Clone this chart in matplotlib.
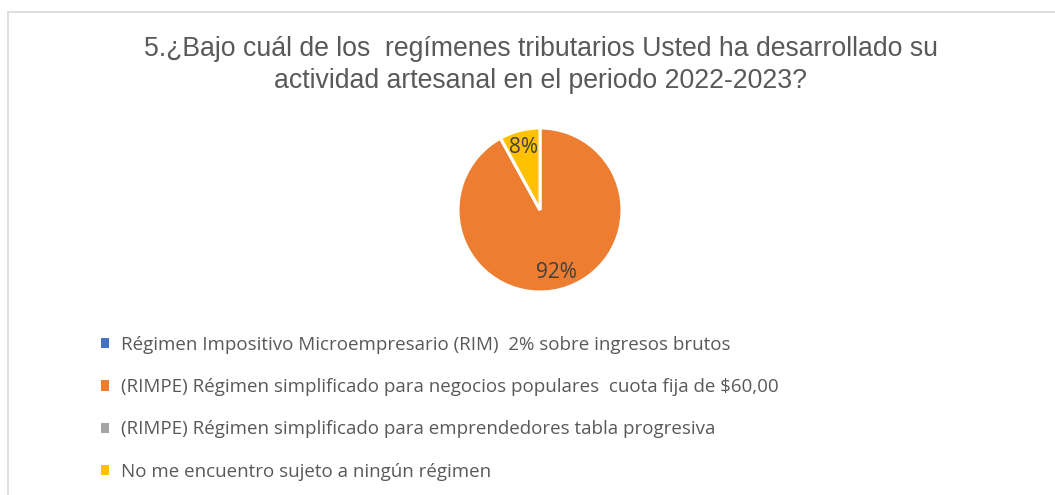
import matplotlib
matplotlib.use("Agg")
import matplotlib.pyplot as plt
from matplotlib.lines import Line2D

title = "5.¿Bajo cuál de los  regímenes tributarios Usted ha desarrollado su\nactividad artesanal en el periodo 2022-2023?"
categories = [
    "Régimen Impositivo Microempresario (RIM)  2% sobre ingresos brutos",
    "(RIMPE) Régimen simplificado para negocios populares  cuota fija de $60,00",
    "(RIMPE) Régimen simplificado para emprendedores tabla progresiva",
    "No me encuentro sujeto a ningún régimen",
]
values = [0, 92, 0, 8]
colors = ["#4472C4", "#ED7D31", "#A5A5A5", "#FFC000"]

W, H = 1055, 495
fig = plt.figure(figsize=(W / 100, H / 100), dpi=100)
fig.patch.set_facecolor("white")

# border (top and left visible)
fig.add_artist(Line2D([8 / W, 8 / W], [0, 1 - 12 / H], color="#D9D9D9", lw=1.2))
fig.add_artist(Line2D([8 / W, 1], [1 - 12 / H, 1 - 12 / H], color="#D9D9D9", lw=1.2))

fig.text(541 / W, 1 - 65 / H, title, ha="center", va="center", fontsize=19.2,
         color="#595959", family="Liberation Sans", linespacing=1.3)

cx, cy, r = 540, 210, 82
ax = fig.add_axes([(cx - r) / W, 1 - (cy + r) / H, 2 * r / W, 2 * r / H])
wedges, texts, autotexts = ax.pie(
    values, colors=colors, startangle=90, counterclock=False,
    autopct=lambda p: f"{p:.0f}%" if p > 0 else "", pctdistance=0.79,
    wedgeprops=dict(edgecolor="white", linewidth=2.2),
    textprops=dict(fontsize=15, color="#404040", family="Open Sans"),
)
ax.set_xlim(-1, 1)
ax.set_ylim(-1, 1)
ax.set_aspect("equal")
ax.axis("off")

leg = fig.legend(wedges, categories, loc="upper left",
                 bbox_to_anchor=(101 / W, 1 - 336 / H), frameon=False,
                 prop=dict(family="Open Sans", size=13.5), labelcolor="#595959",
                 handlelength=0.45, handleheight=0.45, handletextpad=0.6,
                 labelspacing=1.29, borderpad=0, borderaxespad=0)
for h in leg.legend_handles:
    h.set_edgecolor("none")

fig.savefig("out.png", dpi=100, facecolor="white")
